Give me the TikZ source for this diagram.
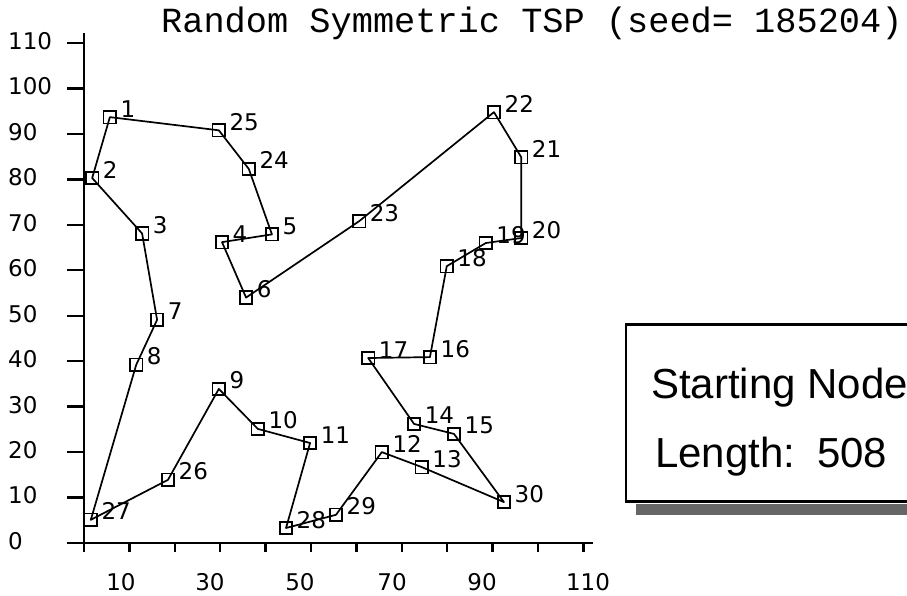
\documentclass[tikz,border=0pt]{standalone}
\usepackage{fontspec}
\setmainfont{Liberation Sans}
\newfontfamily\digfont{DejaVu Sans}
\newfontfamily\ttlfont{Liberation Mono}
\begin{document}
\begin{tikzpicture}[x=1pt,y=1pt,
  axis/.style={line width=2.4pt},
  tour/.style={line width=1.7pt, line join=round},
  city/.style={draw, rectangle, line width=1.7pt, minimum size=12.5pt, inner sep=0pt},
  num/.style={font=\digfont\fontsize{23}{26}\selectfont, inner sep=0pt, anchor=base west},
  ticklab/.style={font=\digfont\fontsize{23}{26}\selectfont, inner sep=0pt},
  boxtext/.style={font=\fontsize{42}{48}\selectfont, inner sep=0pt, anchor=base west}]
\clip (0,0) rectangle (907,595);
\fill[white] (0,0) rectangle (907,595);

% title
\node[anchor=base west, inner sep=0pt, font=\ttlfont\fontsize{35.3}{40}\selectfont] (title) at (161,562) {Random Symmetric TSP (seed= 185204)};

% axes
\draw[axis] (84,43) -- (84,562);
\draw[axis] (67,52) -- (593,52);
\foreach \v in {10,20,...,110} {
  \draw[axis] (67,{52+4.545*\v}) -- (84,{52+4.545*\v});
  \draw[axis] ({84+4.54*\v},52) -- ({84+4.54*\v},43);
}
\foreach \v in {0,10,...,110} {
  \node[ticklab, anchor=west] (y\v) at (8,{54+4.545*\v}) {\v};
}
\foreach \v/\cx in {10/121,30/210,50/300,70/392,90/482,110/588} {
  \node[ticklab, anchor=base] (x\v) at (\cx,5) {\v};
}

% cities
\begin{scope}[shift={(84,52)}, x=4.54pt, y=4.545pt]
\foreach \i/\cx/\cy in {1/5.7/93.7, 2/1.8/80.3, 3/12.8/68.1, 4/30.4/66.2, 5/41.4/67.9,
  6/35.7/54.0, 7/16.1/49.1, 8/11.5/39.2, 9/29.7/33.9, 10/38.3/25.1,
  11/49.8/22.0, 12/65.6/20.0, 13/74.4/16.7, 14/72.7/26.2, 15/81.5/24.0,
  16/76.2/40.9, 17/62.6/40.7, 18/79.9/60.9, 19/88.5/66.0, 20/96.3/67.1,
  21/96.3/84.9, 22/90.3/94.8, 23/60.6/70.8, 24/36.3/82.3, 25/29.7/90.8,
  26/18.5/13.9, 27/1.5/5.1, 28/44.5/3.3, 29/55.5/6.2, 30/92.5/9.0} {
  \node[city] (n\i) at (\cx,\cy) {};
  \node[num] (l\i) at ([xshift=10.5pt]n\i.center) {\i};
}
\end{scope}

% tour
\draw[tour] (n1.center)
  \foreach \j in {2,3,7,8,27,26,9,10,11,28,29,12,13,30,15,14,17,16,18,19,20,21,22,23,6,4,5,24,25} { -- (n\j.center) }
  -- cycle;

% info box
\fill[black!60] (636,80) rectangle (915,91);
\draw[line width=2.2pt, fill=white] (626,93.5) rectangle (915,270.5);
\node[boxtext] (start) at (651,197) {Starting Node};
\node[boxtext] (len) at (655,128) {Length:\hspace{0.15em} 508};
\end{tikzpicture}
\end{document}
